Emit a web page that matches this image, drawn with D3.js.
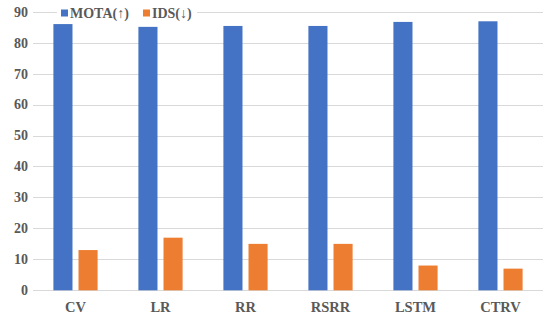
<!DOCTYPE html>
<html>
<head>
<meta charset="utf-8">
<script src="https://cdn.jsdelivr.net/npm/d3@7"></script>
<style>
  body { margin: 0; background: #fff; }
  svg text { font-family: 'Liberation Serif', 'Times New Roman', Times, 'DejaVu Serif', serif; font-weight: 700; fill: #595959; }
</style>
</head>
<body>
<div id="chart"></div>
<script>
// chart data
const categories = ['CV', 'LR', 'RR', 'RSRR', 'LSTM', 'CTRV'];
const seriesNames = ['MOTA(\u2191)', 'IDS(\u2193)'];
const mota = [86.0, 85.1, 85.4, 85.4, 86.7, 86.9];
const ids = [13, 17, 15, 15, 8, 7];
const yTicks = [0, 10, 20, 30, 40, 50, 60, 70, 80, 90];
const colors = ['#4472C4', '#ED7D31'];

const width = 550;
const height = 320;
const margin = { top: 12, right: 7, bottom: 30, left: 33 };

const svg = d3.select('#chart')
  .append('svg')
  .attr('width', width)
  .attr('height', height);

// scales
const x0 = d3.scaleBand()
  .domain(categories)
  .range([margin.left, width - margin.right])
  .paddingInner(0.48)
  .paddingOuter(0.24);

const x1 = d3.scaleBand()
  .domain(seriesNames)
  .range([0, x0.bandwidth()])
  .paddingInner(0.24);

const y = d3.scaleLinear()
  .domain([0, 90])
  .range([height - margin.bottom + 0.3, margin.top - 0.3]);

// gridlines
svg.append('g')
  .selectAll('line')
  .data(yTicks)
  .join('line')
  .attr('x1', margin.left)
  .attr('x2', width - margin.right)
  .attr('y1', d => Math.round(y(d)) + 0.5)
  .attr('y2', d => Math.round(y(d)) + 0.5)
  .attr('stroke', '#d9d9d9')
  .attr('stroke-width', 1);

// y axis labels
svg.append('g')
  .selectAll('text')
  .data(yTicks)
  .join('text')
  .attr('x', 28)
  .attr('y', d => y(d))
  .attr('dy', '0.35em')
  .attr('text-anchor', 'end')
  .style('font-size', '14px')
  .text(d => d);

// bars
const rows = categories.map((c, i) => ({ cat: c, values: [mota[i], ids[i]] }));

const groups = svg.append('g')
  .selectAll('g')
  .data(rows)
  .join('g')
  .attr('transform', d => `translate(${x0(d.cat)},0)`);

groups.selectAll('rect')
  .data(d => d.values.map((v, k) => ({ key: seriesNames[k], value: v, k })))
  .join('rect')
  .attr('x', d => x1(d.key))
  .attr('y', d => y(d.value))
  .attr('width', x1.bandwidth())
  .attr('height', d => y(0) - y(d.value))
  .attr('fill', d => colors[d.k]);

// x labels
svg.append('g')
  .selectAll('text')
  .data(categories)
  .join('text')
  .attr('x', d => x0(d) + x0.bandwidth() / 2)
  .attr('y', 307)
  .attr('dy', '0.35em')
  .attr('text-anchor', 'middle')
  .style('font-size', '14.5px')
  .text(d => d);

// legend
const legend = svg.append('g');
legend.append('rect')
  .attr('x', 57).attr('y', 4).attr('width', 140).attr('height', 18)
  .attr('fill', '#fff');

const legendItems = [
  { name: seriesNames[0], color: colors[0], x: 61 },
  { name: seriesNames[1], color: colors[1], x: 143 }
];

legendItems.forEach(item => {
  legend.append('rect')
    .attr('x', item.x).attr('y', 9.5)
    .attr('width', 7).attr('height', 7)
    .attr('fill', item.color);
  legend.append('text')
    .attr('x', item.x + 9)
    .attr('y', 13)
    .attr('dy', '0.35em')
    .style('font-size', '14px')
    .text(item.name);
});
</script>
</body>
</html>
